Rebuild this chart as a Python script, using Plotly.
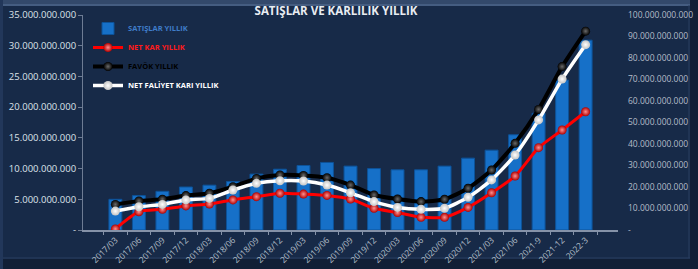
import plotly.graph_objects as go

categories = ["2017/03", "2017/06", "2017/09", "2017/12", "2018/03", "2018/06", "2018/09",
              "2018/12", "2019/03", "2019/06", "2019/09", "2019/12", "2020/03", "2020/06",
              "2020/09", "2020/12", "2021/03", "2021/06", "2021-9", "2021-12", "2022-3"]

satislar = [5.0e9, 5.6e9, 6.3e9, 7.0e9, 7.3e9, 7.9e9, 9.1e9, 9.9e9, 10.5e9, 11.0e9, 10.4e9,
            10.0e9, 9.8e9, 9.8e9, 10.4e9, 11.7e9, 13.0e9, 15.5e9, 19.0e9, 24.4e9, 30.9e9]

net_kar = [0.5e9, 8.5e9, 9.6e9, 11.2e9, 12.1e9, 14.0e9, 15.5e9, 17.1e9, 16.7e9, 16.1e9, 14.4e9,
           10.1e9, 8.1e9, 5.9e9, 5.9e9, 10.5e9, 17.3e9, 25.1e9, 38.3e9, 46.5e9, 55.0e9]

favok = [11.9e9, 13.5e9, 14.3e9, 16.0e9, 17.1e9, 20.1e9, 24.0e9, 25.6e9, 25.4e9, 24.3e9, 20.9e9,
         16.3e9, 14.4e9, 13.2e9, 14.3e9, 19.4e9, 27.9e9, 40.3e9, 56.1e9, 76.0e9, 92.5e9]

net_faaliyet = [8.8e9, 10.8e9, 11.9e9, 14.0e9, 14.7e9, 18.6e9, 21.7e9, 22.9e9, 22.8e9, 20.9e9, 17.3e9,
                13.2e9, 10.5e9, 9.6e9, 10.1e9, 15.2e9, 23.3e9, 34.9e9, 51.2e9, 70.2e9, 86.2e9]

left_tickvals = [0, 5e9, 10e9, 15e9, 20e9, 25e9, 30e9, 35e9]
left_ticktext = ["-", "5.000.000.000", "10.000.000.000", "15.000.000.000", "20.000.000.000",
                 "25.000.000.000", "30.000.000.000", "35.000.000.000"]
right_tickvals = [0, 10e9, 20e9, 30e9, 40e9, 50e9, 60e9, 70e9, 80e9, 90e9, 100e9]
right_ticktext = ["-", "10.000.000.000", "20.000.000.000", "30.000.000.000", "40.000.000.000",
                  "50.000.000.000", "60.000.000.000", "70.000.000.000", "80.000.000.000",
                  "90.000.000.000", "100.000.000.000"]

BG = "#172a48"
W, H = 698, 269
L, R, T, B = 83, 80, 15, 39
pw, ph = W - L - R, H - T - B


def px(x):
    return (x - L) / pw


def py(y):
    return (H - B - y) / ph


fig = go.Figure()

fig.add_trace(go.Bar(
    x=categories, y=satislar, name="<span style='color:#3f7cc8'><b>SATIŞLAR YILLIK</b></span>",
    marker=dict(color="#1670c8", line=dict(color="#0d5298", width=1)),
    width=0.55, yaxis="y",
))


def line_trace(vals, name, lcolor, lw, mcolor, gcolor):
    return go.Scatter(
        x=categories, y=vals, name=name, yaxis="y2", mode="lines+markers",
        line=dict(color=lcolor, width=lw, shape="spline", smoothing=0.6),
        marker=dict(size=9, color=mcolor, symbol="circle",
                    gradient=dict(type="radial", color=gcolor),
                    line=dict(width=0)),
    )


fig.add_trace(line_trace(net_kar, "<span style='color:#ff1a1a'><b>NET KAR YILLIK</b></span>",
                         "#ff0000", 3, "#b00000", "#ff9090"))
fig.add_trace(line_trace(favok, "<span style='color:#000000'><b>FAVÖK YILLIK</b></span>",
                         "#000000", 4, "#000000", "#6a6a6a"))
fig.add_trace(line_trace(net_faaliyet, "<span style='color:#ffffff'><b>NET FALİYET KARI YILLIK</b></span>",
                         "#ffffff", 3.5, "#c4c4c4", "#ffffff"))

shapes = [
    dict(type="rect", xref="paper", yref="paper", x0=px(0), x1=px(W), y0=py(6), y1=py(0),
         fillcolor="#33496b", line=dict(width=0), layer="below"),
    dict(type="line", xref="paper", yref="paper", x0=px(0), x1=px(W), y0=py(5), y1=py(5),
         line=dict(color="#4d6488", width=1.5), layer="below"),
    dict(type="rect", xref="paper", yref="paper", x0=px(0), x1=px(W), y0=py(H), y1=py(259),
         fillcolor="#111f36", line=dict(width=0), layer="below"),
    dict(type="line", xref="paper", yref="paper", x0=px(0), x1=px(W), y0=py(258), y1=py(258),
         line=dict(color="#2a3f60", width=1), layer="below"),
    dict(type="rect", xref="paper", yref="paper", x0=px(690), x1=px(W), y0=py(H), y1=py(0),
         fillcolor="#111f36", line=dict(width=0), layer="below"),
    dict(type="line", xref="paper", yref="paper", x0=px(689), x1=px(689), y0=py(258), y1=py(5),
         line=dict(color="#2a3f60", width=1), layer="below"),
    dict(type="rect", xref="paper", yref="paper", x0=px(0), x1=px(3), y0=py(H), y1=py(0),
         fillcolor="#22375a", line=dict(width=0), layer="below"),
]

fig.update_layout(
    width=W, height=H,
    margin=dict(l=L, r=R, t=T, b=B, pad=0, autoexpand=False),
    paper_bgcolor=BG, plot_bgcolor=BG,
    font=dict(family="Open Sans, Arial, sans-serif", color="#d0d6e0"),
    title=dict(text="<b>SATIŞLAR VE KARLILIK YILLIK</b>", x=336 / W, xanchor="center",
               y=1 - 11 / H, yanchor="middle",
               font=dict(size=11.5, color="#e8ecf2", family="Open Sans, Arial, sans-serif")),
    showlegend=True,
    legend=dict(x=px(88), y=py(14), xanchor="left", yanchor="top",
                bgcolor="rgba(0,0,0,0)", font=dict(size=7.5, family="Open Sans, Arial, sans-serif"),
                itemwidth=30, tracegroupgap=0, traceorder="normal"),
    bargap=0.4,
    shapes=shapes,
    xaxis=dict(type="category", showgrid=False, showline=True, linecolor="#8592a8", linewidth=1.5,
               ticks="outside", tickson="boundaries", ticklen=3, tickcolor="#8592a8",
               tickangle=-45, tickfont=dict(size=8.5, color="#b8c0cc"), zeroline=False,
               automargin=False),
    yaxis=dict(range=[0, 35e9], tickvals=left_tickvals, ticktext=left_ticktext,
               showgrid=False, showline=True, linecolor="#6e7c94", linewidth=1,
               ticks="outside", ticklen=4, tickcolor="#6e7c94",
               tickfont=dict(size=9.5, color="#dde2ea"), zeroline=False, automargin=False),
    yaxis2=dict(range=[0, 100e9], tickvals=right_tickvals, ticktext=right_ticktext,
                overlaying="y", side="right", showgrid=False, showline=False, ticks="",
                ticklabelstandoff=9, automargin=False,
                tickfont=dict(size=8.5, color="#b4bcc8"), zeroline=False),
)

fig.write_html("out.html")
